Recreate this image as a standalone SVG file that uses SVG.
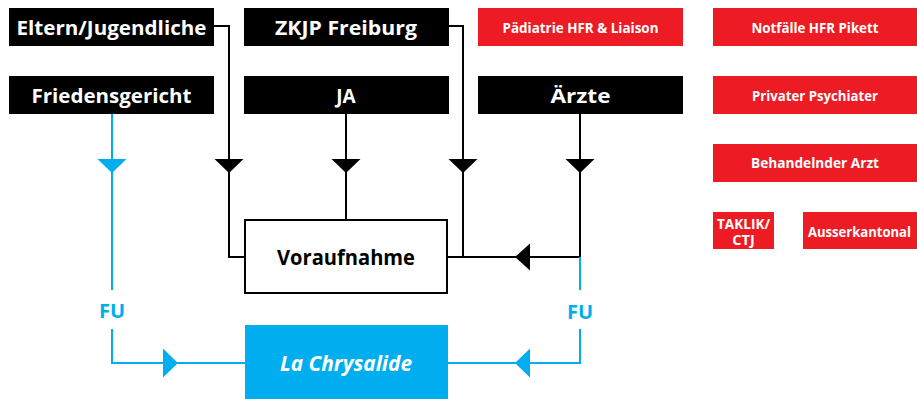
<svg xmlns="http://www.w3.org/2000/svg" width="917" height="399" viewBox="0 0 917 399">
<style>
text{font-family:"Open Sans","Noto Sans","Liberation Sans",sans-serif;font-weight:700;text-anchor:middle}
.bk rect{fill:#000}
.bk text{fill:#fff;font-size:19px}
.rd rect{fill:#ED1C24}
.rd text{fill:#fff;font-size:14.5px}
.ln{fill:none;stroke:#000;stroke-width:2}
.bl{fill:none;stroke:#00AEEF;stroke-width:2}
.ah{fill:#000}
.ahb{fill:#00AEEF}
.fu{fill:#00AEEF;font-size:20px}
</style>
<g id="connectors">
<polyline class="ln" points="214,26 229,26 229,257 245,257"/>
<polyline class="ln" points="346,113 346,220"/>
<polyline class="ln" points="449,26 463,26 463,257"/>
<polyline class="ln" points="580,113 580,257 447,257"/>
<polygon class="ah" points="214.5,159 243.5,159 229,173"/>
<polygon class="ah" points="331.5,159 360.5,159 346,173"/>
<polygon class="ah" points="448.5,159 477.5,159 463,173"/>
<polygon class="ah" points="565.5,159 594.5,159 580,173"/>
<polygon class="ah" points="515,257 530,243.5 530,270.5"/>
<polyline class="bl" points="112,113 112,290"/>
<polyline class="bl" points="112,329 112,363 245,363"/>
<polyline class="bl" points="580,257 580,290"/>
<polyline class="bl" points="580,329 580,363 448,363"/>
<polygon class="ahb" points="97.5,159 126.5,159 112,173"/>
<polygon class="ahb" points="178,363 163,348.5 163,377.5"/>
<polygon class="ahb" points="515,363 530,348.5 530,377.5"/>
<text class="fu" x="112" y="318">FU</text>
<text class="fu" x="580" y="319">FU</text>
</g>
<g id="eltern" class="bk"><rect x="9" y="8" width="205" height="38"/><text x="111.5" y="35" textLength="190" lengthAdjust="spacingAndGlyphs">Eltern/Jugendliche</text></g>
<g id="zkjp" class="bk"><rect x="244" y="8" width="205" height="38"/><text x="346" y="35" textLength="142" lengthAdjust="spacingAndGlyphs">ZKJP Freiburg</text></g>
<g id="friedensgericht" class="bk"><rect x="9" y="76" width="205" height="38"/><text x="111.5" y="103" textLength="160" lengthAdjust="spacingAndGlyphs">Friedensgericht</text></g>
<g id="ja" class="bk"><rect x="244" y="76" width="205" height="38"/><text x="346" y="103">JA</text></g>
<g id="aerzte" class="bk"><rect x="478" y="76" width="205" height="38"/><text x="580.5" y="103" textLength="60" lengthAdjust="spacingAndGlyphs">Ärzte</text></g>
<g id="paediatrie" class="rd"><rect x="478" y="8" width="205" height="38"/><text x="580.5" y="33" textLength="156" lengthAdjust="spacingAndGlyphs">Pädiatrie HFR &amp; Liaison</text></g>
<g id="notfaelle" class="rd"><rect x="713" y="8" width="204" height="38"/><text x="815" y="33" textLength="127" lengthAdjust="spacingAndGlyphs">Notfälle HFR Pikett</text></g>
<g id="psychiater" class="rd"><rect x="713" y="76" width="204" height="38"/><text x="815" y="101" textLength="126" lengthAdjust="spacingAndGlyphs">Privater Psychiater</text></g>
<g id="behandelnder" class="rd"><rect x="713" y="144" width="204" height="38"/><text x="815" y="168" textLength="128" lengthAdjust="spacingAndGlyphs">Behandelnder Arzt</text></g>
<g id="taklik" class="rd"><rect x="713" y="212" width="61" height="37"/><text x="743.5" y="229" font-size="13" textLength="53" lengthAdjust="spacingAndGlyphs">TAKLIK/</text><text x="743.5" y="245" font-size="13">CTJ</text></g>
<g id="ausserkantonal" class="rd"><rect x="803" y="212" width="114" height="37"/><text x="859.5" y="236.5" font-size="13.5" textLength="103" lengthAdjust="spacingAndGlyphs">Ausserkantonal</text></g>
<g id="voraufnahme"><rect x="245" y="220" width="202" height="73" fill="#fff" stroke="#000" stroke-width="2"/><text x="346" y="265" font-size="22" fill="#000" textLength="138" lengthAdjust="spacingAndGlyphs">Voraufnahme</text></g>
<g id="chrysalide"><rect x="245" y="325" width="203" height="74" fill="#00AEEF"/><text x="346" y="371" font-size="22" font-style="italic" fill="#fff" textLength="132" lengthAdjust="spacingAndGlyphs">La Chrysalide</text></g>
</svg>
